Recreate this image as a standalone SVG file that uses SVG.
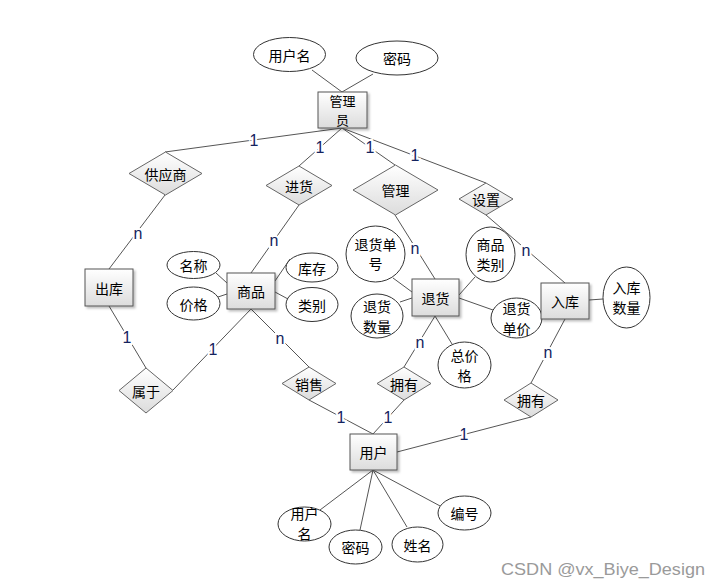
<svg xmlns="http://www.w3.org/2000/svg" width="720" height="588" viewBox="0 0 720 588">
<defs>
<linearGradient id="g" x1="0" y1="0" x2="0" y2="1"><stop offset="0" stop-color="#ffffff"/><stop offset="1" stop-color="#dcdcdc"/></linearGradient>
<filter id="sh" x="-20%" y="-20%" width="150%" height="150%"><feDropShadow dx="2" dy="2" stdDeviation="1" flood-color="#000" flood-opacity="0.25"/></filter>
</defs>
<style>
.e{fill:#fff;stroke:#333;stroke-width:1}
.r{fill:url(#g);stroke:#555;stroke-width:1;filter:url(#sh)}
.d{fill:url(#g);stroke:#666;stroke-width:1}
.t{font-family:"Noto Sans CJK SC","Liberation Sans",sans-serif;font-size:14px;fill:#000;text-anchor:middle;dominant-baseline:central}
.s{font-size:13px}
.l{fill:none;stroke:#555;stroke-width:1}
.c{font-family:"Liberation Sans",sans-serif;font-size:16px;fill:#14235e;text-anchor:middle;dominant-baseline:central;stroke:#fff;stroke-width:4;paint-order:stroke}
.w{font-family:"Liberation Sans",sans-serif;font-size:17px;fill:#9a9a9a}
</style>
<rect width="720" height="588" fill="#fff"/>
<g id="connectors">
<path class="l" d="M312,70 L342,92 M373,74 L342,92"/>
<path class="l" d="M342,128 L165,152 M342,128 L299,166 M342,128 L395,165 M342,128 L486,183"/>
<path class="l" d="M165,195 L109,269 M109,306 L146,368 M173,390 L251,309 M299,205 L251,273 M251,309 L309,367"/>
<path class="l" d="M216,273 L227,283 M218,297 L227,294 M290,259 L275,281 M288,299 L275,292"/>
<path class="l" d="M395,215 L435,279 M486,215 L565,283 M435,316 L404,367 M435,316 L452,344 M565,319 L531,383"/>
<path class="l" d="M393,278 L412,292 M400,302 L412,298 M475,277 L459,295 M459,298 L493,310 M589,300 L603,299"/>
<path class="l" d="M309,400 L373,434 M404,400 L373,434 M531,417 L397,452"/>
<path class="l" d="M373,470 L320,510 M373,470 L360,530 M373,470 L407,527 M373,470 L442,507"/>
</g>
<g id="labels">
<text class="c" x="254" y="140">1</text>
<text class="c" x="320" y="147">1</text>
<text class="c" x="370" y="147">1</text>
<text class="c" x="415" y="155">1</text>
<text class="c" x="138" y="233">n</text>
<text class="c" x="274" y="240">n</text>
<text class="c" x="127" y="337">1</text>
<text class="c" x="213" y="349">1</text>
<text class="c" x="280" y="338">n</text>
<text class="c" x="415" y="248">n</text>
<text class="c" x="526" y="250">n</text>
<text class="c" x="420" y="342">n</text>
<text class="c" x="548" y="352">n</text>
<text class="c" x="341" y="417">1</text>
<text class="c" x="388" y="417">1</text>
<text class="c" x="464" y="434">1</text>
</g>
<g id="admin"><rect class="r" x="318" y="92" width="49" height="36"/><text class="t s" x="342.5" y="100.5">管理</text><text class="t s" x="342.5" y="119.5">员</text></g>
<g id="admin-username"><ellipse class="e" cx="289.5" cy="54.5" rx="36" ry="17"/><text class="t" x="289.5" y="54.5">用户名</text></g>
<g id="admin-password"><ellipse class="e" cx="397" cy="58" rx="41" ry="17"/><text class="t" x="397" y="58">密码</text></g>
<g id="supplier"><polygon class="d" points="165.5,152 202,173.5 165.5,195 129,173.5"/><text class="t" x="165.5" y="173.5">供应商</text></g>
<g id="purchase"><polygon class="d" points="299,166 332,185.5 299,205 266,185.5"/><text class="t" x="299" y="185.5">进货</text></g>
<g id="manage"><polygon class="d" points="395.5,165 438,190 395.5,215 353,190"/><text class="t" x="395.5" y="190">管理</text></g>
<g id="setup"><polygon class="d" points="486,183 513,199 486,215 459,199"/><text class="t" x="486" y="199">设置</text></g>
<g id="outbound"><rect class="r" x="85" y="269" width="48" height="37"/><text class="t" x="109" y="287.5">出库</text></g>
<g id="goods"><rect class="r" x="227" y="273" width="48" height="36"/><text class="t" x="251" y="291">商品</text></g>
<g id="goods-name"><ellipse class="e" cx="193.5" cy="265" rx="26.5" ry="13.5"/><text class="t" x="193.5" y="265">名称</text></g>
<g id="goods-price"><ellipse class="e" cx="193.5" cy="303.5" rx="26.5" ry="16.5"/><text class="t" x="193.5" y="303.5">价格</text></g>
<g id="goods-stock"><ellipse class="e" cx="312" cy="267.5" rx="26" ry="14.5"/><text class="t" x="312" y="267.5">库存</text></g>
<g id="goods-type"><ellipse class="e" cx="312" cy="304.5" rx="26" ry="17"/><text class="t" x="312" y="304.5">类别</text></g>
<g id="belong"><polygon class="d" points="146,368 173,390.5 146,413 119,390.5"/><text class="t" x="146" y="390.5">属于</text></g>
<g id="sale"><polygon class="d" points="309,367 336,383.5 309,400 282,383.5"/><text class="t" x="309" y="383.5">销售</text></g>
<g id="return"><rect class="r" x="412" y="279" width="47" height="37"/><text class="t" x="435.5" y="297.5">退货</text></g>
<g id="return-no"><ellipse class="e" cx="375.5" cy="254" rx="29.5" ry="28"/><text class="t" x="375.5" y="244">退货单</text><text class="t" x="375.5" y="263">号</text></g>
<g id="return-qty"><ellipse class="e" cx="377" cy="316" rx="26" ry="22"/><text class="t" x="377" y="306">退货</text><text class="t" x="377" y="326">数量</text></g>
<g id="goods-category"><ellipse class="e" cx="490.5" cy="254.5" rx="24.5" ry="27.5"/><text class="t" x="490.5" y="244">商品</text><text class="t" x="490.5" y="264">类别</text></g>
<g id="return-unitprice"><ellipse class="e" cx="516.5" cy="318" rx="25.5" ry="20"/><text class="t" x="516.5" y="308">退货</text><text class="t" x="516.5" y="328">单价</text></g>
<g id="total-price"><ellipse class="e" cx="464.5" cy="365" rx="26.5" ry="23"/><text class="t" x="464.5" y="355">总价</text><text class="t" x="464.5" y="375">格</text></g>
<g id="inbound"><rect class="r" x="541" y="283" width="48" height="36"/><text class="t" x="565" y="301">入库</text></g>
<g id="inbound-qty"><ellipse class="e" cx="626.5" cy="297.5" rx="23.5" ry="30.5"/><text class="t" x="626.5" y="287">入库</text><text class="t" x="626.5" y="307">数量</text></g>
<g id="own1"><polygon class="d" points="404,367 431,383.5 404,400 377,383.5"/><text class="t" x="404" y="383.5">拥有</text></g>
<g id="own2"><polygon class="d" points="531,383 558,400 531,417 504,400"/><text class="t" x="531" y="400">拥有</text></g>
<g id="user"><rect class="r" x="350" y="434" width="47" height="36"/><text class="t" x="373.5" y="452">用户</text></g>
<g id="user-username"><ellipse class="e" cx="304.5" cy="524" rx="26.5" ry="17"/><text class="t" x="304.5" y="513">用户</text><text class="t" x="304.5" y="533">名</text></g>
<g id="user-password"><ellipse class="e" cx="355.5" cy="547" rx="26.5" ry="17"/><text class="t" x="355.5" y="547">密码</text></g>
<g id="user-name"><ellipse class="e" cx="417.5" cy="544.5" rx="25.5" ry="17.5"/><text class="t" x="417.5" y="544.5">姓名</text></g>
<g id="user-id"><ellipse class="e" cx="464.5" cy="513" rx="26.5" ry="17"/><text class="t" x="464.5" y="513">编号</text></g>
<text class="w" x="501" y="575" textLength="204" lengthAdjust="spacingAndGlyphs">CSDN @vx_Biye_Design</text>
</svg>
